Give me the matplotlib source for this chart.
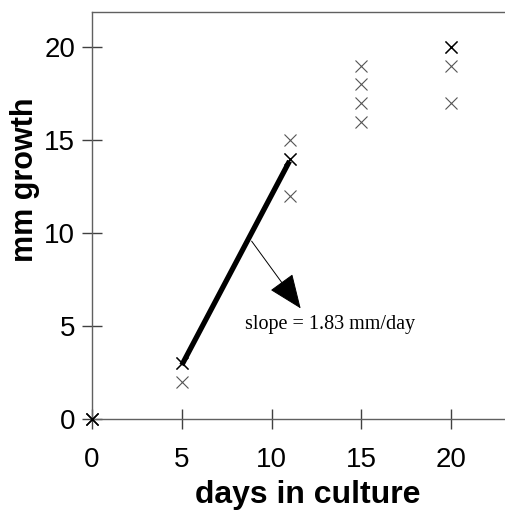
import numpy as np
import matplotlib
matplotlib.use("Agg")
import matplotlib.pyplot as plt

# growth data
days = [0, 5, 5, 11, 11, 11, 15, 15, 15, 15, 20, 20, 20]
growth = [0, 3, 2, 15, 14, 12, 19, 18, 17, 16, 20, 19, 17]
dark_days = [0, 0, 5, 11, 20]      # points that print darker (overlaps)
dark_growth = [0, 0, 3, 14, 20]

fit_x = [5, 11]
slope = 1.83
intercept = -6.25
xticks = [0, 5, 10, 15, 20]
yticks = [0, 5, 10, 15, 20]

W, H = 505, 513
fig = plt.figure(figsize=(W / 100, H / 100), dpi=100)
ax = fig.add_axes([92 / W, 94 / H, 413 / W, 407 / H])

ax.set_xlim(0, 23.0)
ax.set_ylim(0, 21.9)

ax.plot(days, growth, linestyle='none', marker='x', markersize=9,
        markeredgewidth=0.8, color='#555555', clip_on=False, zorder=3)
ax.plot(dark_days, dark_growth, linestyle='none', marker='x', markersize=9,
        markeredgewidth=1.0, color='black', clip_on=False, zorder=4)

fx = np.array(fit_x)
ax.plot(fx, slope * fx + intercept, color='black', linewidth=3.8,
        solid_capstyle='butt', zorder=5)

ax.annotate('', xy=(11.62, 5.95), xytext=(8.89, 9.57),
            arrowprops=dict(arrowstyle='-|>,head_length=1.1,head_width=0.45',
                            mutation_scale=20, lw=0.7, color='black',
                            shrinkA=0, shrinkB=0))
ax.text(8.5, 5.1, 'slope = 1.83 mm/day', family='Liberation Serif',
        fontsize=14.5, va='center', ha='left')

for side in ['left', 'bottom', 'top']:
    ax.spines[side].set_color('#606060')
    ax.spines[side].set_linewidth(1.0)
ax.spines['right'].set_visible(False)

ax.set_xticks(xticks)
ax.set_yticks(yticks)
ax.tick_params(axis='x', direction='inout', length=14, width=1, color='#404040',
               labelsize=20, pad=13)
ax.tick_params(axis='y', direction='inout', length=14, width=1, color='#404040',
               labelsize=20, pad=5)
for lab in ax.get_xticklabels() + ax.get_yticklabels():
    lab.set_family('Liberation Sans')

fig.text(308 / W, 1 - 495 / H, 'days in culture', family='Liberation Sans',
         fontweight='bold', fontsize=23, ha='center', va='center')
fig.text(25 / W, 1 - 180 / H, 'mm growth', family='Liberation Sans',
         fontweight='bold', fontsize=22, ha='center', va='center', rotation=90)

fig.savefig('out.png', dpi=100)
